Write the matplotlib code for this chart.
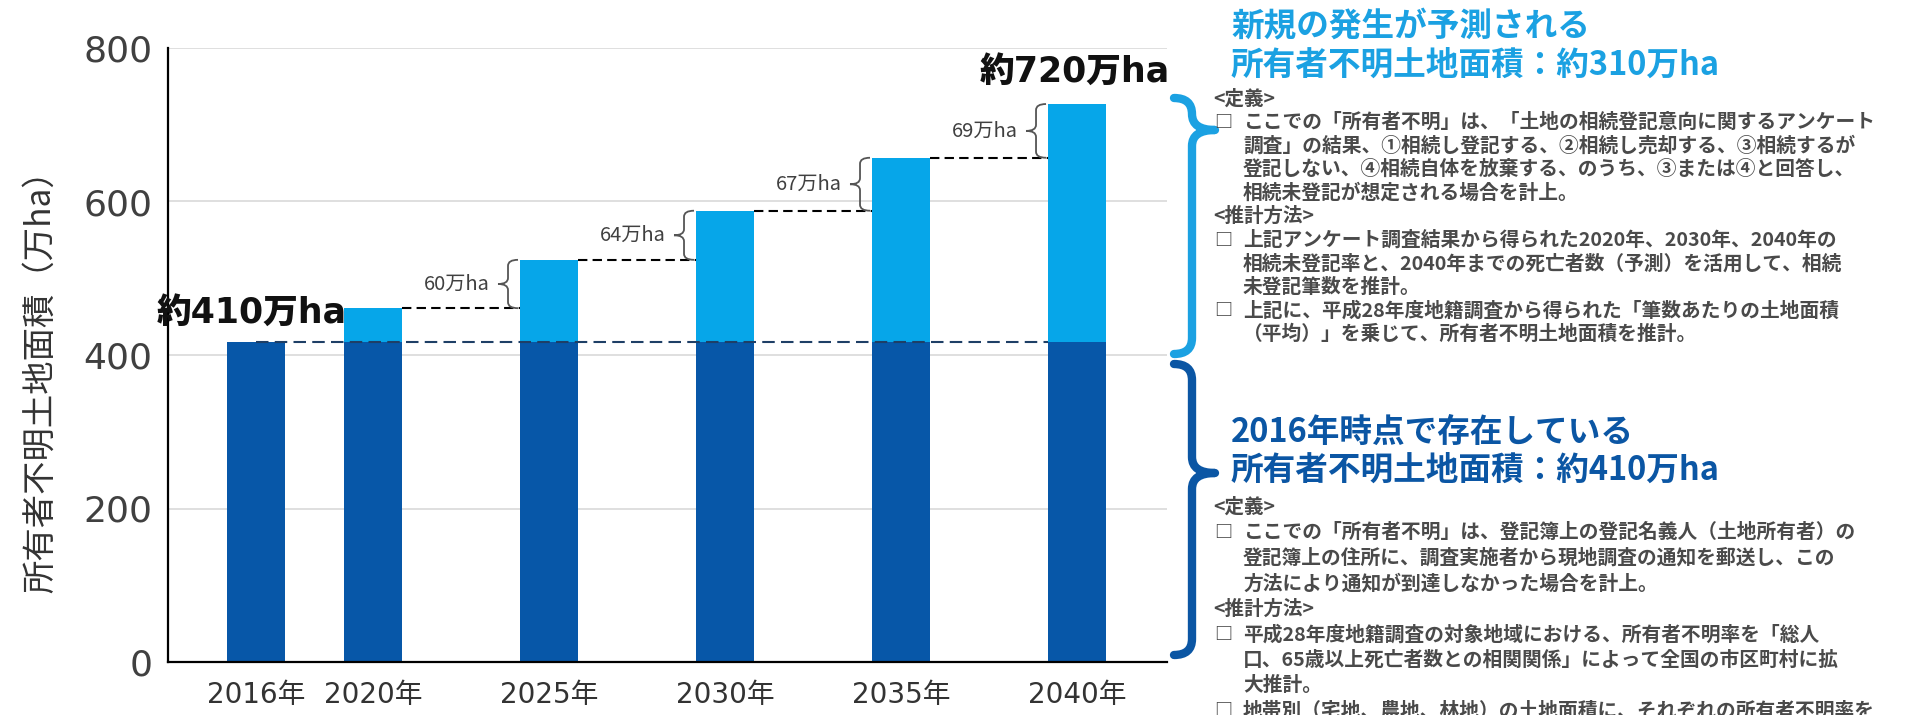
import numpy as np
import matplotlib
matplotlib.use('Agg')
import matplotlib.pyplot as plt
from matplotlib.path import Path
from matplotlib.patches import PathPatch

# data (万ha)
years = ['2016年', '2020年', '2025年', '2030年', '2035年', '2040年']
existing = [417, 417, 417, 417, 417, 417]   # 2016年時点で存在
new_area = [0, 44, 107, 171, 240, 310]      # 新規発生（予測）
step_labels = ['60万ha', '64万ha', '67万ha', '69万ha']
yticks = [0, 200, 400, 600, 800]
label_start = '約410万ha'
label_end = '約720万ha'

title_new = ['新規の発生が予測される', '所有者不明土地面積：約310万ha']
title_old = ['2016年時点で存在している', '所有者不明土地面積：約410万ha']
# (kind, text): h = header, b = bullet, c = continuation
notes_new = [
    ('h', '<定義>'),
    ('b', 'ここでの「所有者不明」は、「土地の相続登記意向に関するアンケート'),
    ('c', '調査」の結果、①相続し登記する、②相続し売却する、③相続するが'),
    ('c', '登記しない、④相続自体を放棄する、のうち、③または④と回答し、'),
    ('c', '相続未登記が想定される場合を計上。'),
    ('h', '<推計方法>'),
    ('b', '上記アンケート調査結果から得られた2020年、2030年、2040年の'),
    ('c', '相続未登記率と、2040年までの死亡者数（予測）を活用して、相続'),
    ('c', '未登記筆数を推計。'),
    ('b', '上記に、平成28年度地籍調査から得られた「筆数あたりの土地面積'),
    ('c', '（平均）」を乗じて、所有者不明土地面積を推計。'),
]
notes_old = [
    ('h', '<定義>'),
    ('b', 'ここでの「所有者不明」は、登記簿上の登記名義人（土地所有者）の'),
    ('c', '登記簿上の住所に、調査実施者から現地調査の通知を郵送し、この'),
    ('c', '方法により通知が到達しなかった場合を計上。'),
    ('h', '<推計方法>'),
    ('b', '平成28年度地籍調査の対象地域における、所有者不明率を「総人'),
    ('c', '口、65歳以上死亡者数との相関関係」によって全国の市区町村に拡'),
    ('c', '大推計。'),
    ('b', '地帯別（宅地、農地、林地）の土地面積に、それぞれの所有者不明率を'),
]

DARK = '#0757a8'
LIGHT = '#06a6e9'
TXT = '#4a4a4a'
JP = ['Noto Sans CJK JP', 'DejaVu Sans']
NUM = ['DejaVu Sans', 'Noto Sans CJK JP']

W, H = 1921, 715
fig = plt.figure(figsize=(W / 100, H / 100), dpi=100, facecolor='white')
ax = fig.add_axes([168 / W, 53 / H, 999 / W, 614 / H])

xpos = np.array([0, 0.665, 1.665, 2.665, 3.665, 4.665])
bw = 0.33
existing = np.array(existing)
new_area = np.array(new_area)
total = existing + new_area

ax.bar(xpos, existing, bw, color=DARK, zorder=2)
ax.bar(xpos, new_area, bw, bottom=existing, color=LIGHT, zorder=2)

ax.set_xlim(-0.5, 5.176)
ax.set_ylim(0, 800)
ux = (5.176 + 0.5) / 999   # data units per pixel
uy = 800 / 614

# baseline of existing land
ax.plot([xpos[0], xpos[-1] - bw / 2], [existing[0]] * 2, color='#1e3f66',
        lw=1.5, ls=(0, (6, 3)), zorder=3)


def brace_left(xr, y0, y1):
    xv = xr - 10 * ux
    xt = xr - 20 * ux
    ym = (y0 + y1) / 2
    r = min(6 * uy, (y1 - y0) / 4)
    verts = [(xr, y1), (xv, y1), (xv, y1 - r), (xv, ym + r), (xv, ym), (xt, ym),
             (xv, ym), (xv, ym - r), (xv, y0 + r), (xv, y0), (xr, y0)]
    codes = [Path.MOVETO, Path.CURVE3, Path.CURVE3, Path.LINETO, Path.CURVE3, Path.CURVE3,
             Path.CURVE3, Path.CURVE3, Path.LINETO, Path.CURVE3, Path.CURVE3]
    ax.add_patch(PathPatch(Path(verts, codes), fill=False, ec='#555555', lw=1.3, zorder=3))
    return xt, ym


for i in range(1, 5):
    left = xpos[i + 1] - bw / 2
    ax.plot([xpos[i] + bw / 2, left], [total[i]] * 2, color='black', lw=1.5,
            ls=(0, (4.5, 2.5)), zorder=3)
    xt, ym = brace_left(left - 2 * ux, total[i], total[i + 1])
    ax.text(xt - 8 * ux, ym, step_labels[i - 1], ha='right', va='center',
            fontsize=14.5, color='#404040', family=JP)

ax.text(-0.5625, existing[0] + 38, label_start, ha='left', va='center',
        fontsize=25, weight='heavy', color='#111111', family=NUM)
ax.text(5.19, total[-1] + 42, label_end, ha='right', va='center',
        fontsize=25, weight='heavy', color='#111111', family=NUM)

ax.set_yticks(yticks)
ax.yaxis.grid(True, color='#d9d9d9', lw=1.2)
ax.set_axisbelow(True)
for s in ['top', 'right']:
    ax.spines[s].set_visible(False)
for s in ['left', 'bottom']:
    ax.spines[s].set_color('black')
    ax.spines[s].set_linewidth(1.6)
ax.tick_params(axis='y', length=0, pad=11, labelsize=26, labelcolor='#404040')
ax.tick_params(axis='x', length=0, pad=14, labelsize=20, labelcolor='#333333')
ax.set_xticks(xpos, years)
for t in ax.get_xticklabels():
    t.set_family(NUM)
ax.set_ylabel('所有者不明土地面積（万ha）', family=JP, fontsize=24, color='#333333')
ax.yaxis.set_label_coords(-0.11, 0.47)

# right-hand notes, drawn in pixel coordinates
ov = fig.add_axes([0, 0, 1, 1])
ov.set_xlim(0, W)
ov.set_ylim(H, 0)
ov.axis('off')
ov.patch.set_alpha(0)


def brace_right(x0, ytop, ybot, ytip, color):
    xv = x0 + 18
    xt = x0 + 41
    r = 16
    verts = [(x0, ytop), (xv, ytop), (xv, ytop + r), (xv, ytip - r), (xv, ytip), (xt, ytip),
             (xv, ytip), (xv, ytip + r), (xv, ybot - r), (xv, ybot), (x0, ybot)]
    codes = [Path.MOVETO, Path.CURVE3, Path.CURVE3, Path.LINETO, Path.CURVE3, Path.CURVE3,
             Path.CURVE3, Path.CURVE3, Path.LINETO, Path.CURVE3, Path.CURVE3]
    ov.add_patch(PathPatch(Path(verts, codes), fill=False, ec=color, lw=6,
                           capstyle='round', joinstyle='round'))


brace_right(1174, 98, 354, 130, '#1ba1e2')
brace_right(1174, 364, 655, 473, '#0b56a4')


def notes(title, lines, y_title, y0, step, color):
    for k, t in enumerate(title):
        ov.text(1231, y_title + 38 * k, t, ha='left', va='center', fontsize=23.5,
                weight='bold', color=color, family=JP)
    for k, (kind, t) in enumerate(lines):
        y = y0 + step * k
        if kind == 'h':
            ov.text(1213, y, t, ha='left', va='center', fontsize=14,
                    weight='bold', color=TXT, family=JP)
        else:
            if kind == 'b':
                ov.text(1214, y, '□', ha='left', va='center', fontsize=13,
                        weight='bold', color=TXT, family=JP)
            ov.text(1243, y, t, ha='left', va='center', fontsize=14.2,
                    weight='bold', color=TXT, family=JP)


notes(title_new, notes_new, 27, 99, 23.5, '#1ba1e2')
notes(title_old, notes_old, 432, 507, 25.5, '#0b56a4')

fig.savefig('out.png', dpi=100, facecolor='white')
